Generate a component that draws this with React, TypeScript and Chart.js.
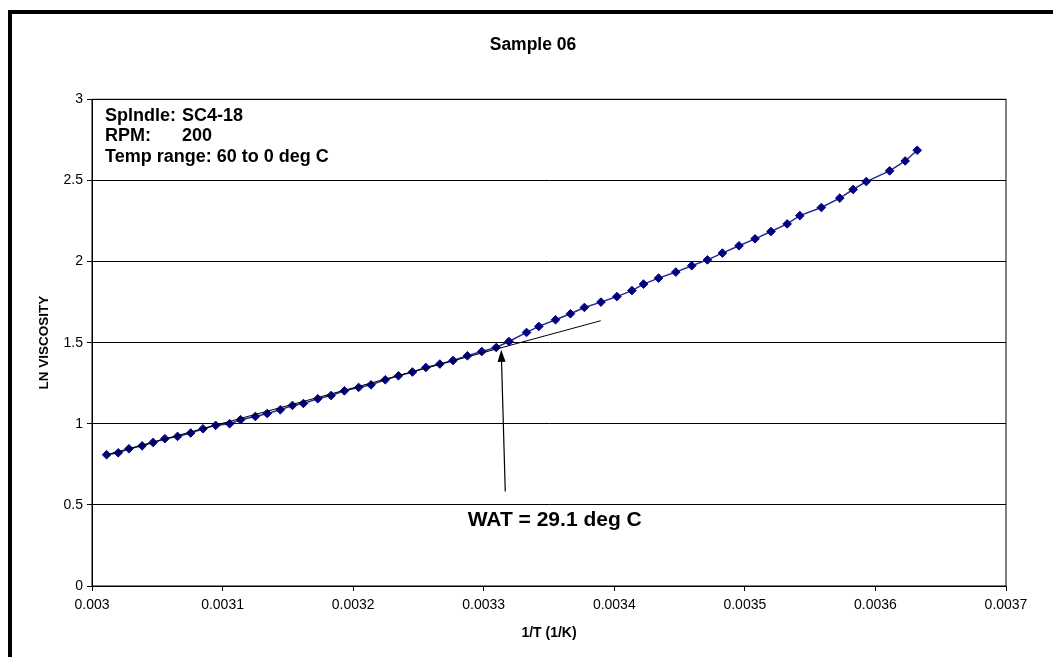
import React, { useEffect, useRef } from 'react';
import { Chart, registerables } from 'chart.js';

Chart.register(...registerables);

// ---- data ----
const inverseTemp = [
  0.0030112, 0.0030201, 0.0030283, 0.0030384, 0.0030468, 0.0030558, 0.0030655, 0.0030756, 0.003085, 0.0030947,
  0.0031054, 0.0031138, 0.0031251, 0.0031342, 0.0031442, 0.0031535, 0.0031619, 0.0031729, 0.0031831, 0.0031933,
  0.0032042, 0.0032137, 0.0032246, 0.0032347, 0.0032454, 0.0032557, 0.0032664, 0.0032765, 0.0032875, 0.0032985,
  0.0033096, 0.0033193, 0.0033328, 0.0033422, 0.003355, 0.0033664, 0.0033771, 0.0033898, 0.003402, 0.0034135,
  0.0034224, 0.0034339, 0.0034471, 0.0034593, 0.0034713, 0.0034828, 0.0034955, 0.0035078, 0.00352, 0.0035324,
  0.0035421, 0.0035586, 0.0035727, 0.0035829, 0.003593, 0.0036109, 0.0036228, 0.003632,
];
const lnViscosity = [
  0.809, 0.821, 0.846, 0.864, 0.885, 0.908, 0.922, 0.943, 0.969, 0.99,
  1.0, 1.025, 1.045, 1.063, 1.086, 1.113, 1.125, 1.154, 1.174, 1.203,
  1.224, 1.24, 1.271, 1.296, 1.319, 1.347, 1.368, 1.39, 1.419, 1.445,
  1.47, 1.507, 1.563, 1.6, 1.641, 1.678, 1.717, 1.75, 1.784, 1.821,
  1.861, 1.898, 1.935, 1.974, 2.01, 2.052, 2.097, 2.14, 2.185, 2.232,
  2.283, 2.333, 2.391, 2.444, 2.493, 2.559, 2.62, 2.686,
];

const tangentX = [0.0030112, 0.0033896];
const tangentY = [0.809, 1.635];

const arrowStart = [0.0033165, 0.583];
const arrowTip = [0.0033134, 1.456];
const watLabelPos = [0.0032877, 0.367];
const watLabel = 'WAT = 29.1 deg C';

const xTickValues = [0.003, 0.0031, 0.0032, 0.0033, 0.0034, 0.0035, 0.0036, 0.0037];
const xTickLabels = ['0.003', '0.0031', '0.0032', '0.0033', '0.0034', '0.0035', '0.0036', '0.0037'];
const yTickValues = [0, 0.5, 1, 1.5, 2, 2.5, 3];
const yTickLabels = ['0', '0.5', '1', '1.5', '2', '2.5', '3'];

const chartTitle = 'Sample 06';
const xAxisTitle = '1/T (1/K)';
const yAxisTitle = 'LN VISCOSITY';
const infoLabels = ['Splndle:', 'RPM:', 'Temp range: 60 to 0 deg C'];
const infoValues = ['SC4-18', '200', ''];

const FONT = '"Liberation Sans", Arial, Helvetica, sans-serif';

const decorPlugin = {
  id: 'decor',
  beforeDraw(chart: any) {
    const { ctx, width, height } = chart;
    ctx.save();
    ctx.fillStyle = '#ffffff';
    ctx.fillRect(0, 0, width, height);
    ctx.fillStyle = '#000000';
    ctx.fillRect(8, 10, width - 8, 4);
    ctx.fillRect(8, 10, 4, height - 10);
    // chart title
    ctx.font = `bold 17.5px ${FONT}`;
    ctx.textAlign = 'center';
    ctx.textBaseline = 'middle';
    ctx.fillText(chartTitle, 533, 45);
    ctx.restore();
  },
  afterDraw(chart: any) {
    const { ctx, chartArea, scales } = chart;
    const xs = scales.x;
    const ys = scales.y;
    ctx.save();
    // plot frame
    ctx.strokeStyle = '#000000';
    ctx.lineWidth = 1;
    ctx.strokeRect(chartArea.left, chartArea.top, chartArea.right - chartArea.left, chartArea.bottom - chartArea.top);

    // info text box
    ctx.fillStyle = '#000000';
    ctx.font = `bold 18px ${FONT}`;
    ctx.textAlign = 'left';
    ctx.textBaseline = 'alphabetic';
    const lx = chartArea.left + 13;
    infoLabels.forEach((t, i) => {
      const y = chartArea.top + 21.5 + i * 20.5;
      ctx.fillText(t, lx, y);
      if (infoValues[i]) ctx.fillText(infoValues[i], lx + 77, y);
    });

    // arrow
    const x0 = xs.getPixelForValue(arrowStart[0]);
    const y0 = ys.getPixelForValue(arrowStart[1]);
    const x1 = xs.getPixelForValue(arrowTip[0]);
    const y1 = ys.getPixelForValue(arrowTip[1]);
    const ang = Math.atan2(y1 - y0, x1 - x0);
    const headLen = 12;
    const headHalf = 4;
    const bx = x1 - headLen * Math.cos(ang);
    const by = y1 - headLen * Math.sin(ang);
    ctx.strokeStyle = '#000000';
    ctx.lineWidth = 1.2;
    ctx.beginPath();
    ctx.moveTo(x0, y0);
    ctx.lineTo(bx, by);
    ctx.stroke();
    ctx.beginPath();
    ctx.moveTo(x1, y1);
    ctx.lineTo(bx + headHalf * Math.sin(ang), by - headHalf * Math.cos(ang));
    ctx.lineTo(bx - headHalf * Math.sin(ang), by + headHalf * Math.cos(ang));
    ctx.closePath();
    ctx.fill();

    // WAT label
    ctx.font = `bold 21px ${FONT}`;
    ctx.fillText(watLabel, xs.getPixelForValue(watLabelPos[0]), ys.getPixelForValue(watLabelPos[1]));
    ctx.restore();
  },
};

export default function App() {
  const ref = useRef<HTMLCanvasElement | null>(null);

  useEffect(() => {
    if (!ref.current) return;
    const seriesData = inverseTemp.map((x, i) => ({ x, y: lnViscosity[i] }));
    const tangentData = tangentX.map((x, i) => ({ x, y: tangentY[i] }));
    const chart = new Chart(ref.current, {
      type: 'line',
      data: {
        datasets: [
          {
            label: 'Tangent',
            data: tangentData,
            borderColor: '#000000',
            borderWidth: 1,
            pointRadius: 0,
            fill: false,
            order: -1,
          },
          {
            label: 'LN viscosity',
            data: seriesData,
            borderColor: '#2a2a96',
            borderWidth: 1.5,
            backgroundColor: '#000080',
            pointBackgroundColor: '#000080',
            pointBorderColor: '#000080',
            pointStyle: 'rectRot',
            pointRadius: 4.3,
            pointBorderWidth: 1,
            fill: false,
            tension: 0,
            order: 0,
          },
        ],
      },
      options: {
        animation: false,
        responsive: false,
        parsing: false as any,
        layout: { padding: { top: 99.3, left: 35, right: 47, bottom: 17 } },
        plugins: {
          legend: { display: false },
          tooltip: { enabled: false },
          title: { display: false },
        },
        scales: {
          x: {
            type: 'linear',
            min: 0.003,
            max: 0.0037,
            afterBuildTicks: (axis: any) => {
              axis.ticks = xTickValues.map((value) => ({ value }));
            },
            afterFit: (axis: any) => {
              axis.height = 54;
            },
            ticks: {
              autoSkip: false,
              maxRotation: 0,
              color: '#000000',
              padding: 6,
              font: { family: FONT, size: 14 },
              callback: (_v: any, i: number) => xTickLabels[i],
            },
            grid: { drawOnChartArea: false, drawTicks: true, tickLength: 5, color: '#000000' },
            border: { display: true, color: '#000000', width: 1 },
            title: {
              display: true,
              text: xAxisTitle,
              color: '#000000',
              font: { family: FONT, size: 14, weight: 'bold' },
              padding: { top: 0, bottom: -2 },
            },
          },
          y: {
            type: 'linear',
            min: 0,
            max: 3,
            afterBuildTicks: (axis: any) => {
              axis.ticks = yTickValues.map((value) => ({ value }));
            },
            afterFit: (axis: any) => {
              axis.width = 57;
            },
            ticks: {
              color: '#000000',
              padding: 4,
              font: { family: FONT, size: 14 },
              callback: (_v: any, i: number) => yTickLabels[i],
            },
            grid: { color: '#000000', lineWidth: 1, tickLength: 5, drawTicks: true },
            border: { display: true, color: '#000000', width: 1 },
            title: {
              display: true,
              text: yAxisTitle,
              color: '#000000',
              font: { family: FONT, size: 13.5, weight: 'bold' },
              padding: { top: 1, bottom: 0 },
            },
          },
        },
      },
      plugins: [decorPlugin],
    });
    return () => chart.destroy();
  }, []);

  return (
    <div style={{ position: 'fixed', left: 0, top: 0, width: 1053, height: 657 }}>
      <canvas ref={ref} width={1053} height={657} style={{ display: 'block' }} />
    </div>
  );
}
